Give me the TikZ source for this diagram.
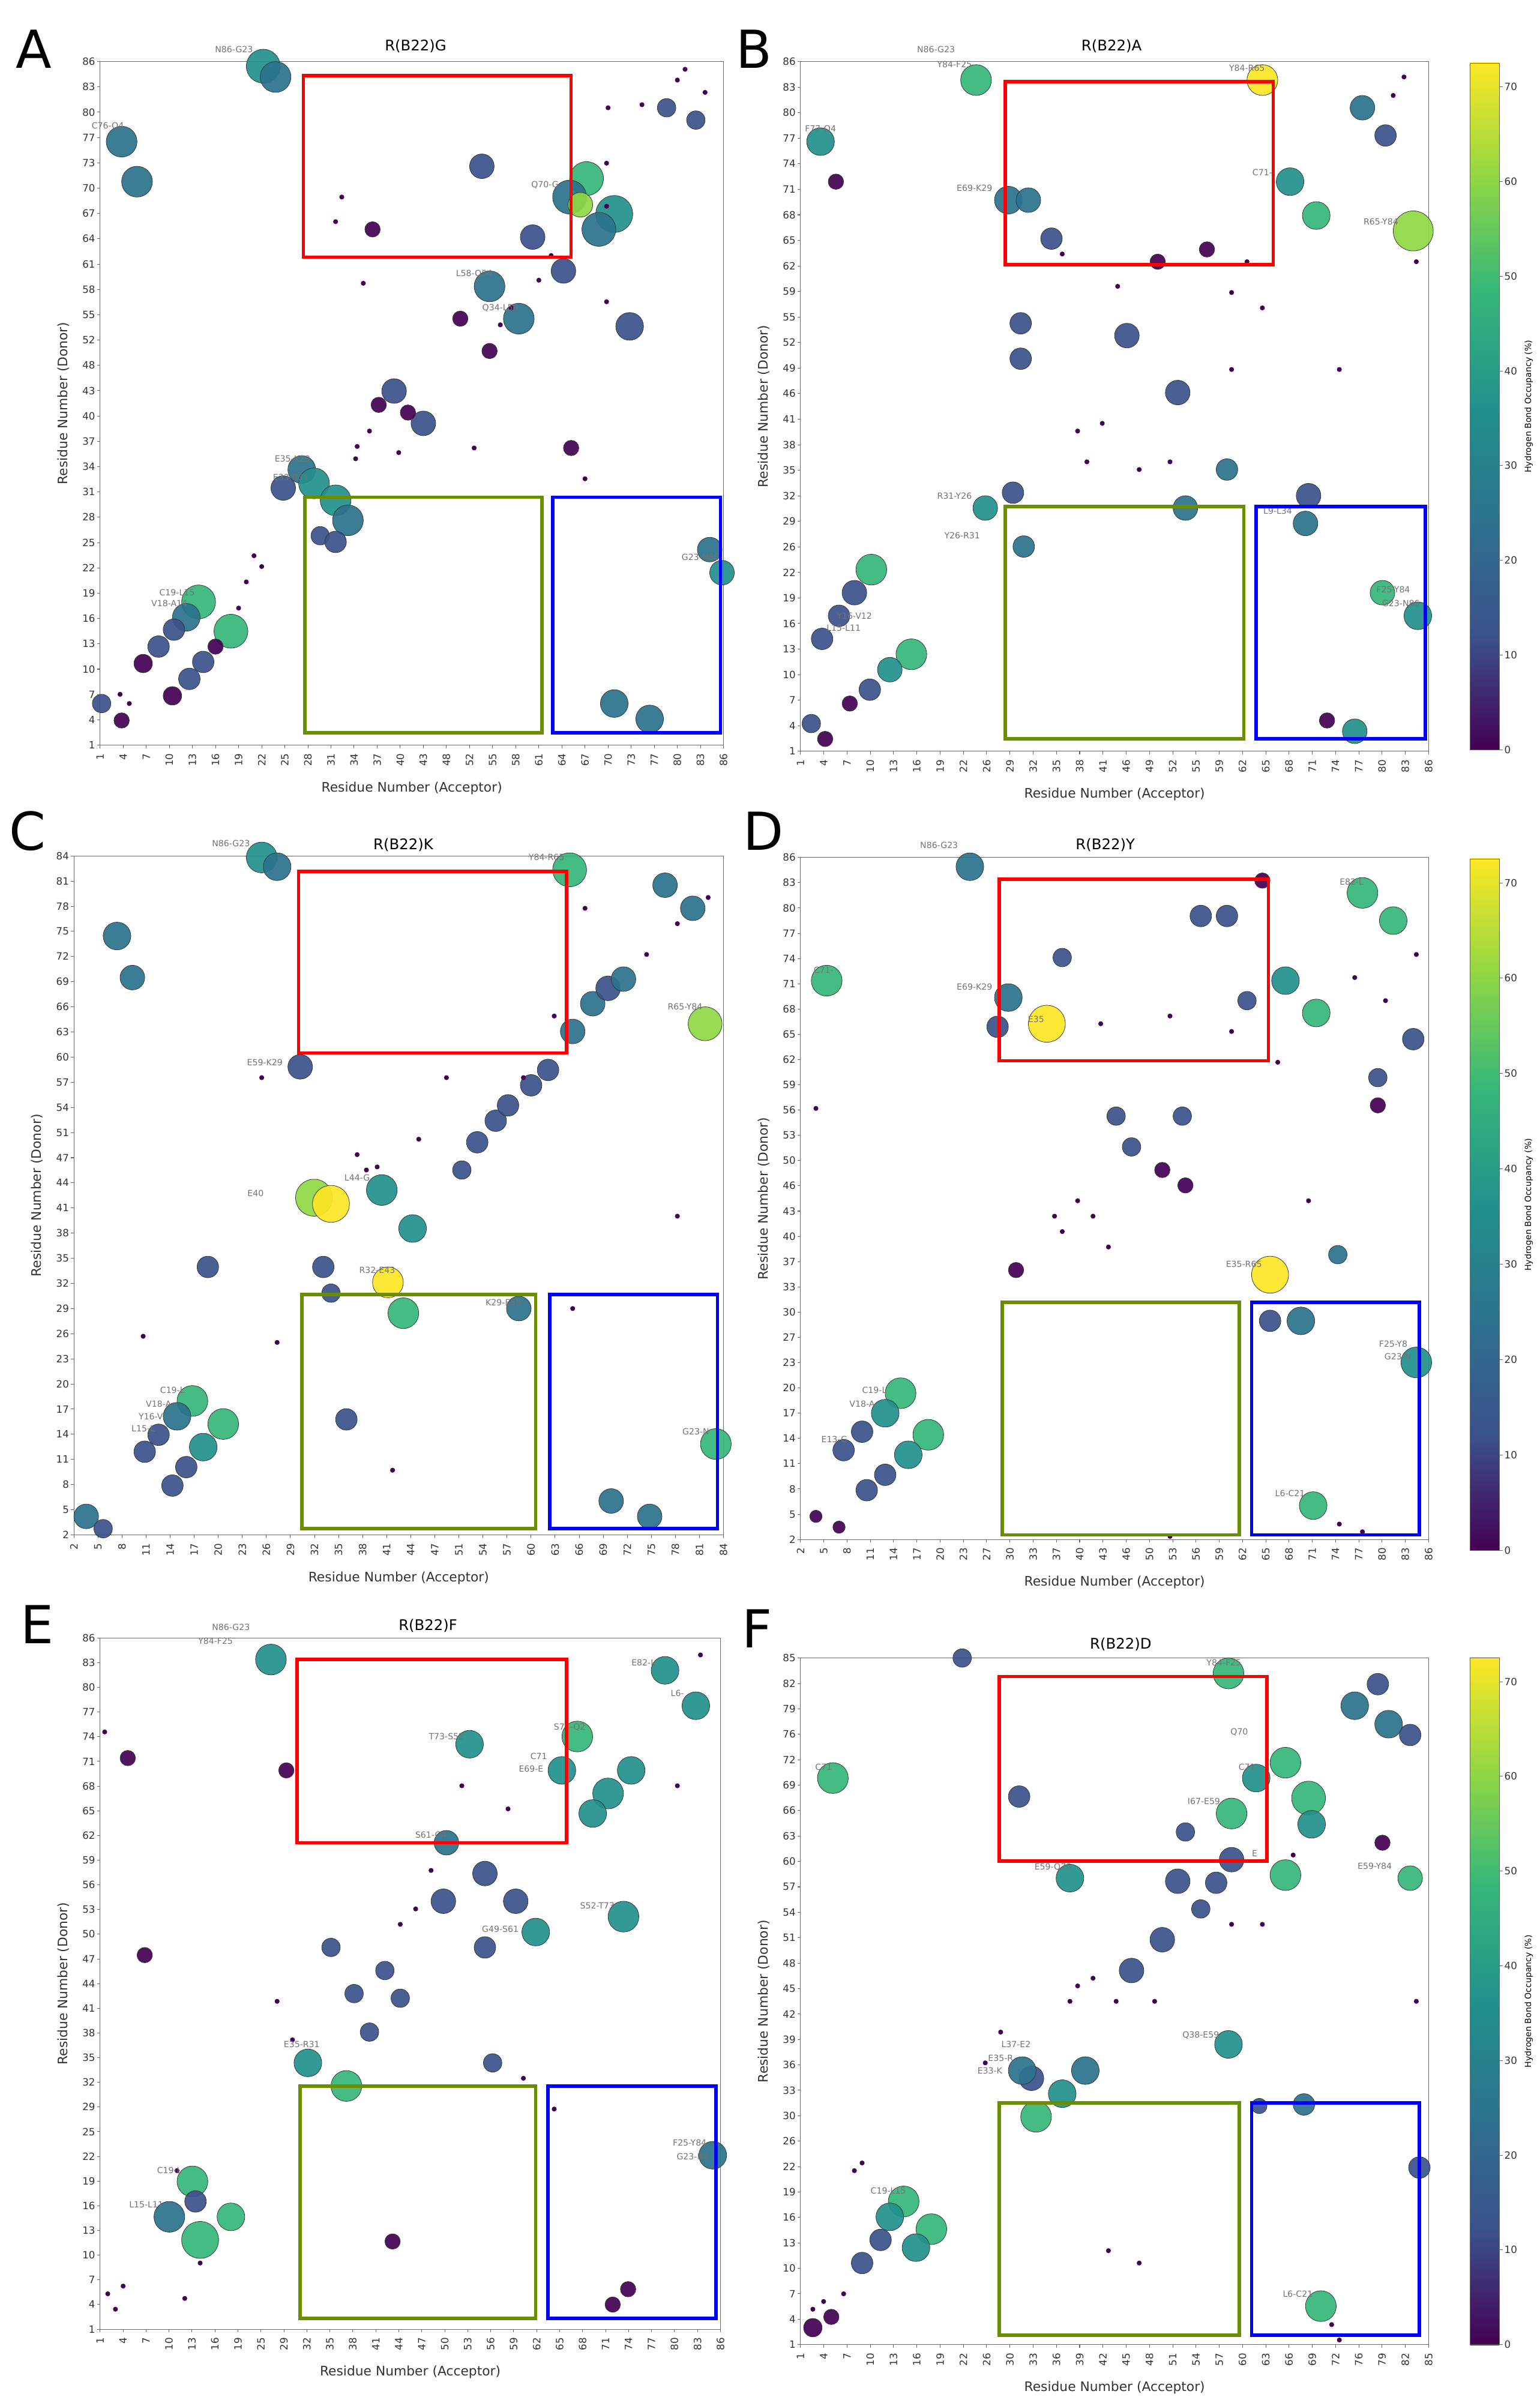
\documentclass[tikz,border=0pt]{standalone}
\usepackage{fontspec}
\setmainfont{DejaVu Sans}
\definecolor{v0}{HTML}{440154}
\definecolor{v1}{HTML}{3B528B}
\definecolor{v2}{HTML}{2C728E}
\definecolor{v3}{HTML}{21918C}
\definecolor{v4}{HTML}{35B779}
\definecolor{v5}{HTML}{90D743}
\definecolor{v6}{HTML}{FDE725}
\definecolor{rbox}{HTML}{FF0000}
\definecolor{gbox}{HTML}{6B8E00}
\definecolor{bbox}{HTML}{0000FF}
\tikzset{
 tick/.style={font=\fontsize{6.5}{7}\selectfont, text=black!80},
 lab/.style={font=\fontsize{8.5}{9}\selectfont, text=black!80},
 ttl/.style={font=\fontsize{9.5}{10}\selectfont},
 letter/.style={font=\fontsize{34}{34}\selectfont},
 ann/.style={font=\fontsize{5.5}{6}\selectfont, text=black!55},
 hl/.style={line width=2.2pt},
}
\newcommand\axpanel[8]{%
 \draw[black!60, line width=0.4pt] (#1,#2) rectangle (#3,#4);
 \foreach \v [count=\i] in {#6} {\pgfmathsetmacro\xx{#1+(\i-1)*(#3-#1)/(#5-1)}
   \draw[black!60] (\xx,#4) -- (\xx,#4+2);
   \node[tick, rotate=90, anchor=east] at (\xx,#4+2) {\v};}
 \foreach \v [count=\i] in {#8} {\pgfmathsetmacro\yy{#4-(\i-1)*(#4-#2)/(#7-1)}
   \draw[black!60] (#1,\yy) -- (#1-2,\yy);
   \node[tick, anchor=east, inner sep=1pt] at (#1-2,\yy) {\v};}
 \node[lab] at ({(#1+#3)/2},#4+28) {Residue Number (Acceptor)};
 \node[lab, rotate=90] at (#1-24,{(#2+#4)/2}) {Residue Number (Donor)};
}
\newcommand\cbar[4]{% x0,y0,x1,y1
 \foreach \ca/\cb [count=\k] in {v0/v1,v1/v2,v2/v3,v3/v4,v4/v5,v5/v6} {
   \pgfmathsetmacro\ylo{#4-(\k-1)*(#4-#2)/6}\pgfmathsetmacro\yhi{#4-\k*(#4-#2)/6}
   \shade[bottom color=\ca, top color=\cb] (#1,\ylo+0.3) rectangle (#3,\yhi-0.3);}
 \draw[black!60, line width=0.3pt] (#1,#2) rectangle (#3,#4);
 \foreach \v in {0,10,...,70} {\pgfmathsetmacro\yy{#4-\v/72.5*(#4-#2)}
   \draw[black!60] (#3,\yy) -- (#3+2,\yy);
   \node[tick, anchor=west, inner sep=1pt] at (#3+2,\yy) {\v};}
 \node[font=\fontsize{5.5}{6}\selectfont, rotate=90] at (#3+19,{(#2+#4)/2}) {Hydrogen Bond Occupancy (\%)};
}
\newcommand\bub[4]{\fill[#4, draw=black!80, line width=0.3pt, fill opacity=0.92] (#1,#2) circle (#3);}
\newcommand\smalldots[1]{\foreach \p in {#1} {\fill[v0] (\p) circle (1.6);}}
\begin{document}
\begin{tikzpicture}[x=1pt,y=-1pt]
\useasboundingbox (0,0) rectangle (1000,1559);
\fill[white] (0,0) rectangle (1000,1559);
% ===== Panel A =====
\node[letter] at (22,32) {A};
\node[ttl] at (270,30) {R(B22)G};
\axpanel{65}{40}{470}{484}{28}{1,4,7,10,13,16,19,22,25,28,31,34,37,40,43,48,52,55,58,61,64,67,70,73,77,80,83,86}{28}{1,4,7,10,13,16,19,22,25,28,31,34,37,40,43,48,52,55,58,61,64,67,70,73,77,80,83,86}
\bub{171}{43}{11}{v3}\bub{179}{50}{10}{v2}\bub{79}{92}{10}{v2}\bub{89}{118}{10}{v2}
\bub{313}{108}{8}{v1}\bub{242}{149}{5}{v0}\bub{381}{116}{11}{v4}\bub{370}{128}{11}{v2}
\bub{377}{133}{8}{v5}\bub{399}{139}{12}{v3}\bub{389}{149}{11}{v2}\bub{346}{154}{8}{v1}
\bub{366}{176}{8}{v1}\bub{318}{186}{10}{v2}\bub{337}{207}{10}{v2}\bub{409}{212}{9}{v1}
\bub{299}{207}{5}{v0}\bub{318}{228}{5}{v0}\bub{256}{254}{8}{v1}\bub{275}{275}{8}{v1}
\bub{371}{291}{5}{v0}\bub{196}{305}{9}{v2}\bub{184}{317}{8}{v1}\bub{204}{314}{10}{v3}
\bub{218}{325}{10}{v3}\bub{226}{338}{10}{v2}\bub{208}{348}{6}{v1}\bub{218}{352}{7}{v1}
\bub{461}{357}{8}{v2}\bub{469}{372}{8}{v3}\bub{129}{391}{11}{v4}\bub{121}{401}{9}{v2}
\bub{113}{409}{7}{v1}\bub{103}{420}{7}{v1}\bub{93}{431}{6}{v0}\bub{150}{410}{11}{v4}
\bub{140}{420}{5}{v0}\bub{132}{430}{7}{v1}\bub{123}{441}{7}{v1}\bub{112}{452}{6}{v0}
\bub{399}{457}{9}{v2}\bub{422}{467}{9}{v2}\bub{66}{457}{6}{v1}\bub{79}{468}{5}{v0}
\bub{433}{70}{6}{v1}\bub{452}{78}{6}{v1}\bub{246}{263}{5}{v0}\bub{265}{268}{5}{v0}
\smalldots{{84,457},{78,451},{155,395},{160,378},{165,361},{170,368},{218,144},{222,128},{325,211},{332,200},{350,182},{358,166},{395,70},{417,68},{394,106},{394,134},{394,196},{259,294},{232,290},{308,291},{240,280},{440,52},{445,45},{458,60},{380,311},{236,184},{231,298}}
\node[ann] at (152,32) {N86-G23};\node[ann] at (70,82) {C76-Q4};
\node[ann] at (308,178) {L58-Q54};\node[ann] at (325,200) {Q34-L58};
\node[ann] at (190,298) {E35-K29};\node[ann] at (189,310) {E33-R31};
\node[ann] at (115,385) {C19-L15};\node[ann] at (110,392) {V18-A14};
\node[ann] at (455,362) {G23-N86};\node[ann] at (354,120) {Q70-G};
\draw[rbox,hl] (197,49) rectangle (371,167);
\draw[gbox,hl] (198,323) rectangle (352,476);
\draw[bbox,hl] (359,323) rectangle (468,476);
% ===== Panel B =====
\node[letter] at (490,32) {B};
\node[ttl] at (722,30) {R(B22)A};
\axpanel{520}{40}{928}{488}{28}{1,4,7,10,13,16,19,22,26,29,32,35,38,41,46,49,52,55,59,62,65,68,71,74,77,80,83,86}{28}{1,4,7,10,13,16,19,22,26,29,32,35,38,41,46,49,52,55,59,62,65,68,71,74,77,80,83,86}
\cbar{955}{41}{974}{487}
\bub{634}{52}{10}{v4}\bub{820}{52}{10}{v6}\bub{533}{92}{9}{v3}\bub{543}{118}{5}{v0}
\bub{655}{130}{9}{v2}\bub{668}{130}{8}{v2}\bub{683}{155}{7}{v1}\bub{838}{118}{9}{v3}
\bub{855}{140}{9}{v4}\bub{918}{150}{13}{v5}\bub{885}{70}{8}{v2}\bub{900}{88}{7}{v1}
\bub{663}{210}{7}{v1}\bub{663}{233}{7}{v1}\bub{732}{218}{8}{v1}\bub{765}{255}{8}{v1}
\bub{658}{320}{7}{v1}\bub{640}{330}{8}{v3}\bub{665}{355}{7}{v2}\bub{797}{305}{7}{v2}
\bub{850}{322}{8}{v1}\bub{848}{340}{8}{v2}\bub{770}{330}{8}{v2}\bub{898}{385}{8}{v4}
\bub{921}{400}{9}{v3}\bub{862}{468}{5}{v0}\bub{880}{475}{8}{v3}
\bub{566}{370}{10}{v4}\bub{555}{385}{8}{v1}\bub{545}{400}{7}{v1}\bub{534}{415}{7}{v1}
\bub{592}{425}{10}{v4}\bub{578}{435}{8}{v3}\bub{565}{448}{7}{v1}\bub{552}{457}{5}{v0}
\bub{527}{470}{6}{v1}\bub{536}{480}{5}{v0}\bub{752}{170}{5}{v0}\bub{784}{162}{5}{v0}
\smalldots{{700,280},{706,300},{716,275},{740,305},{800,190},{820,200},{810,170},{905,62},{912,50},{920,170},{690,165},{726,186},{760,300},{800,240},{870,240}}
\node[ann] at (608,32) {N86-G23};\node[ann] at (620,42) {Y84-F25};
\node[ann] at (810,44) {Y84-R65};\node[ann] at (533,84) {F77-Q4};
\node[ann] at (633,122) {E69-K29};\node[ann] at (820,112) {C71-};
\node[ann] at (897,144) {R65-Y84};\node[ann] at (620,322) {R31-Y26};
\node[ann] at (625,348) {Y26-R31};\node[ann] at (830,332) {L9-L34};
\node[ann] at (905,383) {F25-Y84};\node[ann] at (910,392) {G23-N86};
\node[ann] at (555,400) {Y16-V12};\node[ann] at (548,408) {L15-L11};
\draw[rbox,hl] (653,53) rectangle (827,172);
\draw[gbox,hl] (653,329) rectangle (808,480);
\draw[bbox,hl] (816,329) rectangle (926,480);
% ===== Panel C =====
\node[letter] at (18,540) {C};
\node[ttl] at (262,549) {R(B22)K};
\axpanel{48}{556}{470}{997}{28}{2,5,8,11,14,17,20,23,26,29,32,35,38,41,44,47,51,54,57,60,63,66,69,72,75,78,81,84}{28}{2,5,8,11,14,17,20,23,26,29,32,35,38,41,44,47,51,54,57,60,63,66,69,72,75,78,81,84}
\bub{170}{557}{10}{v3}\bub{180}{563}{9}{v2}\bub{370}{565}{11}{v4}\bub{76}{608}{9}{v2}
\bub{86}{635}{8}{v2}\bub{195}{693}{8}{v1}\bub{135}{823}{7}{v1}\bub{204}{778}{12}{v5}
\bub{215}{782}{12}{v6}\bub{248}{773}{10}{v3}\bub{268}{798}{9}{v3}\bub{252}{833}{10}{v6}
\bub{262}{853}{10}{v4}\bub{210}{823}{7}{v1}\bub{215}{840}{6}{v1}\bub{225}{922}{7}{v1}
\bub{337}{850}{8}{v2}\bub{458}{665}{11}{v5}\bub{465}{938}{10}{v4}\bub{397}{975}{8}{v2}
\bub{422}{985}{8}{v2}\bub{56}{985}{8}{v2}\bub{67}{993}{6}{v1}
\bub{300}{760}{6}{v1}\bub{310}{742}{7}{v1}\bub{322}{728}{7}{v1}\bub{330}{718}{7}{v1}
\bub{345}{705}{7}{v1}\bub{356}{695}{7}{v1}\bub{372}{670}{8}{v2}\bub{385}{652}{8}{v2}
\bub{395}{642}{8}{v1}\bub{405}{636}{8}{v2}\bub{432}{575}{8}{v2}\bub{450}{590}{8}{v2}
\bub{125}{910}{10}{v4}\bub{115}{920}{9}{v2}\bub{103}{932}{7}{v1}\bub{94}{943}{7}{v1}
\bub{145}{925}{10}{v4}\bub{132}{940}{9}{v3}\bub{121}{953}{7}{v1}\bub{112}{965}{7}{v1}
\smalldots{{180,872},{170,700},{232,750},{238,760},{245,758},{272,740},{290,700},{340,700},{360,660},{420,620},{440,600},{380,590},{440,790},{460,583},{372,850},{93,868},{255,955}}
\node[ann] at (150,548) {N86-G23};\node[ann] at (355,557) {Y84-R65};
\node[ann] at (172,690) {E59-K29};\node[ann] at (445,654) {R65-Y84};
\node[ann] at (166,775) {E40};\node[ann] at (232,765) {L44-G};
\node[ann] at (245,825) {R32-E43};\node[ann] at (327,846) {K29-E59};
\node[ann] at (452,930) {G23-N};\node[ann] at (112,903) {C19-L};
\node[ann] at (103,912) {V18-A};\node[ann] at (98,920) {Y16-V};\node[ann] at (93,928) {L15-L};
\draw[rbox,hl] (194,566) rectangle (368,684);
\draw[gbox,hl] (196,841) rectangle (348,993);
\draw[bbox,hl] (357,841) rectangle (466,993);
% ===== Panel D =====
\node[letter] at (496,540) {D};
\node[ttl] at (718,549) {R(B22)Y};
\axpanel{520}{557}{928}{1000}{28}{2,5,8,11,14,17,20,23,27,30,33,37,40,43,46,50,53,56,59,62,65,68,71,74,77,80,83,86}{28}{2,5,8,11,14,17,20,23,27,30,33,37,40,43,46,50,53,56,59,62,65,68,71,74,77,80,83,86}
\cbar{955}{558}{974}{1007}
\bub{630}{563}{9}{v2}\bub{537}{637}{10}{v4}\bub{655}{648}{9}{v2}\bub{648}{667}{7}{v1}
\bub{680}{665}{12}{v6}\bub{690}{622}{6}{v1}\bub{780}{595}{7}{v1}\bub{797}{595}{7}{v1}
\bub{820}{572}{5}{v0}\bub{835}{637}{9}{v3}\bub{855}{658}{9}{v4}\bub{885}{580}{10}{v4}
\bub{905}{598}{9}{v4}\bub{895}{700}{6}{v1}\bub{895}{718}{5}{v0}\bub{918}{675}{7}{v1}
\bub{825}{828}{12}{v6}\bub{845}{858}{9}{v2}\bub{825}{858}{7}{v1}\bub{869}{815}{6}{v2}
\bub{920}{885}{10}{v3}\bub{853}{978}{9}{v4}\bub{725}{725}{6}{v1}\bub{735}{745}{6}{v1}
\bub{768}{725}{6}{v1}\bub{755}{760}{5}{v0}\bub{770}{770}{5}{v0}\bub{810}{650}{6}{v1}
\bub{585}{905}{10}{v4}\bub{575}{918}{9}{v3}\bub{560}{930}{7}{v1}\bub{548}{942}{7}{v1}
\bub{603}{932}{10}{v4}\bub{590}{945}{9}{v3}\bub{575}{958}{7}{v1}\bub{563}{968}{7}{v1}
\bub{530}{985}{4}{v0}\bub{545}{992}{4}{v0}\bub{660}{825}{5}{v0}
\smalldots{{685,790},{690,800},{700,780},{710,790},{720,810},{715,665},{760,660},{800,670},{830,690},{850,780},{870,990},{885,995},{760,998},{530,720},{880,635},{900,650},{920,620}}
\node[ann] at (610,549) {N86-G23};\node[ann] at (535,630) {C71-};
\node[ann] at (633,641) {E69-K29};\node[ann] at (673,662) {E35};
\node[ann] at (878,573) {E82-L};\node[ann] at (808,821) {E35-R65};
\node[ann] at (905,873) {F25-Y8};\node[ann] at (908,881) {G23-N};
\node[ann] at (568,903) {C19-L};\node[ann] at (560,912) {V18-A};
\node[ann] at (542,935) {E13-G};\node[ann] at (838,970) {L6-C21};
\draw[rbox,hl] (649,571) rectangle (824,689);
\draw[gbox,hl] (651,846) rectangle (805,997);
\draw[bbox,hl] (813,846) rectangle (922,997);
% ===== Panel E =====
\node[letter] at (24,1055) {E};
\node[ttl] at (278,1056) {R(B22)F};
\axpanel{65}{1064}{468}{1513}{28}{1,4,7,10,13,16,19,25,29,32,35,38,41,44,47,50,53,56,59,62,65,68,71,74,77,80,83,86}{29}{1,4,7,10,13,16,19,22,25,29,32,35,38,41,44,47,50,53,56,59,62,65,68,71,74,77,80,83,86}
\bub{176}{1078}{10}{v3}\bub{305}{1133}{9}{v3}\bub{375}{1128}{10}{v4}\bub{365}{1150}{9}{v3}
\bub{395}{1165}{10}{v3}\bub{410}{1150}{9}{v3}\bub{385}{1178}{9}{v3}\bub{432}{1085}{9}{v3}
\bub{452}{1108}{9}{v3}\bub{290}{1197}{8}{v2}\bub{315}{1217}{8}{v1}\bub{288}{1235}{8}{v1}
\bub{335}{1235}{8}{v1}\bub{315}{1265}{7}{v1}\bub{348}{1255}{9}{v3}\bub{405}{1245}{10}{v3}
\bub{200}{1340}{9}{v3}\bub{225}{1355}{10}{v4}\bub{240}{1320}{6}{v1}\bub{230}{1295}{6}{v1}
\bub{215}{1265}{6}{v1}\bub{463}{1400}{9}{v2}\bub{125}{1417}{10}{v4}\bub{127}{1430}{7}{v1}
\bub{110}{1440}{10}{v2}\bub{130}{1455}{12}{v4}\bub{150}{1440}{9}{v4}\bub{255}{1456}{5}{v0}
\bub{398}{1497}{5}{v0}\bub{83}{1142}{5}{v0}\bub{94}{1270}{5}{v0}\bub{250}{1280}{6}{v1}
\bub{260}{1298}{6}{v1}\bub{320}{1340}{6}{v1}\bub{408}{1487}{5}{v0}\bub{186}{1150}{5}{v0}
\smalldots{{70,1490},{75,1500},{80,1485},{130,1470},{120,1493},{180,1300},{190,1325},{260,1250},{270,1240},{280,1215},{340,1350},{360,1370},{330,1175},{300,1160},{440,1160},{455,1075},{115,1410},{68,1125}}
\node[ann] at (150,1057) {N86-G23};\node[ann] at (140,1066) {Y84-F25};
\node[ann] at (290,1128) {T73-S52};\node[ann] at (370,1122) {S74-Q2};
\node[ann] at (350,1141) {C71};\node[ann] at (345,1149) {E69-E};
\node[ann] at (280,1192) {S61-G4};\node[ann] at (325,1253) {G49-S61};
\node[ann] at (388,1238) {S52-T73};\node[ann] at (196,1328) {E35-R31};
\node[ann] at (448,1392) {F25-Y84};\node[ann] at (450,1401) {G23-N8};
\node[ann] at (110,1410) {C19-L};\node[ann] at (95,1432) {L15-L11};
\node[ann] at (418,1080) {E82-L};\node[ann] at (440,1100) {L6-};
\draw[rbox,hl] (193,1078) rectangle (368,1197);
\draw[gbox,hl] (195,1355) rectangle (348,1506);
\draw[bbox,hl] (356,1355) rectangle (465,1506);
% ===== Panel F =====
\node[letter] at (492,1058) {F};
\node[ttl] at (728,1068) {R(B22)D};
\axpanel{520}{1077}{928}{1523}{28}{1,4,7,10,13,16,19,22,26,30,33,36,39,42,45,48,51,54,57,60,63,66,69,72,76,79,82,85}{28}{1,4,7,10,13,16,19,22,26,30,33,36,39,42,45,48,51,54,57,60,63,66,69,72,76,79,82,85}
\cbar{955}{1077}{974}{1523}
\bub{541}{1155}{10}{v4}\bub{798}{1087}{10}{v4}\bub{880}{1108}{9}{v2}\bub{895}{1094}{7}{v1}
\bub{902}{1120}{9}{v2}\bub{916}{1127}{7}{v1}\bub{662}{1167}{7}{v1}\bub{695}{1220}{9}{v3}
\bub{800}{1178}{10}{v4}\bub{816}{1155}{9}{v3}\bub{835}{1145}{10}{v4}\bub{850}{1168}{11}{v4}
\bub{852}{1185}{9}{v3}\bub{835}{1218}{10}{v4}\bub{800}{1208}{8}{v1}\bub{790}{1223}{7}{v1}
\bub{765}{1222}{8}{v1}\bub{755}{1260}{8}{v1}\bub{735}{1280}{8}{v1}\bub{798}{1328}{9}{v3}
\bub{916}{1220}{8}{v4}\bub{898}{1197}{5}{v0}\bub{670}{1350}{8}{v1}\bub{664}{1345}{9}{v2}
\bub{673}{1375}{10}{v4}\bub{690}{1360}{9}{v3}\bub{705}{1345}{9}{v2}\bub{587}{1430}{10}{v4}
\bub{578}{1440}{9}{v3}\bub{605}{1448}{10}{v4}\bub{595}{1460}{9}{v3}\bub{572}{1455}{7}{v1}
\bub{560}{1470}{7}{v1}\bub{858}{1498}{10}{v4}\bub{818}{1368}{5}{v1}\bub{847}{1367}{7}{v2}
\bub{922}{1408}{7}{v1}\bub{625}{1077}{6}{v1}\bub{770}{1190}{6}{v1}\bub{780}{1240}{6}{v1}
\bub{528}{1512}{6}{v0}\bub{540}{1505}{5}{v0}
\smalldots{{528,1500},{535,1495},{548,1490},{695,1300},{700,1290},{710,1285},{725,1300},{720,1462},{740,1470},{865,1510},{870,1520},{650,1320},{640,1340},{800,1250},{820,1250},{840,1205},{750,1300},{560,1405},{555,1410},{920,1300}}
\node[ann] at (795,1080) {Y84-F25};\node[ann] at (535,1148) {C71};
\node[ann] at (810,1148) {C71};\node[ann] at (805,1125) {Q70};
\node[ann] at (782,1170) {I67-E59};\node[ann] at (684,1213) {E59-Q70};
\node[ann] at (893,1212) {E59-Y84};\node[ann] at (780,1322) {Q38-E59};
\node[ann] at (660,1328) {L37-E2};\node[ann] at (650,1337) {E35-R};
\node[ann] at (643,1345) {E33-K};\node[ann] at (577,1423) {C19-L15};
\node[ann] at (843,1490) {L6-C21};\node[ann] at (815,1204) {E};
\draw[rbox,hl] (649,1089) rectangle (823,1209);
\draw[gbox,hl] (649,1366) rectangle (805,1517);
\draw[bbox,hl] (813,1366) rectangle (922,1517);
\end{tikzpicture}
\end{document}
